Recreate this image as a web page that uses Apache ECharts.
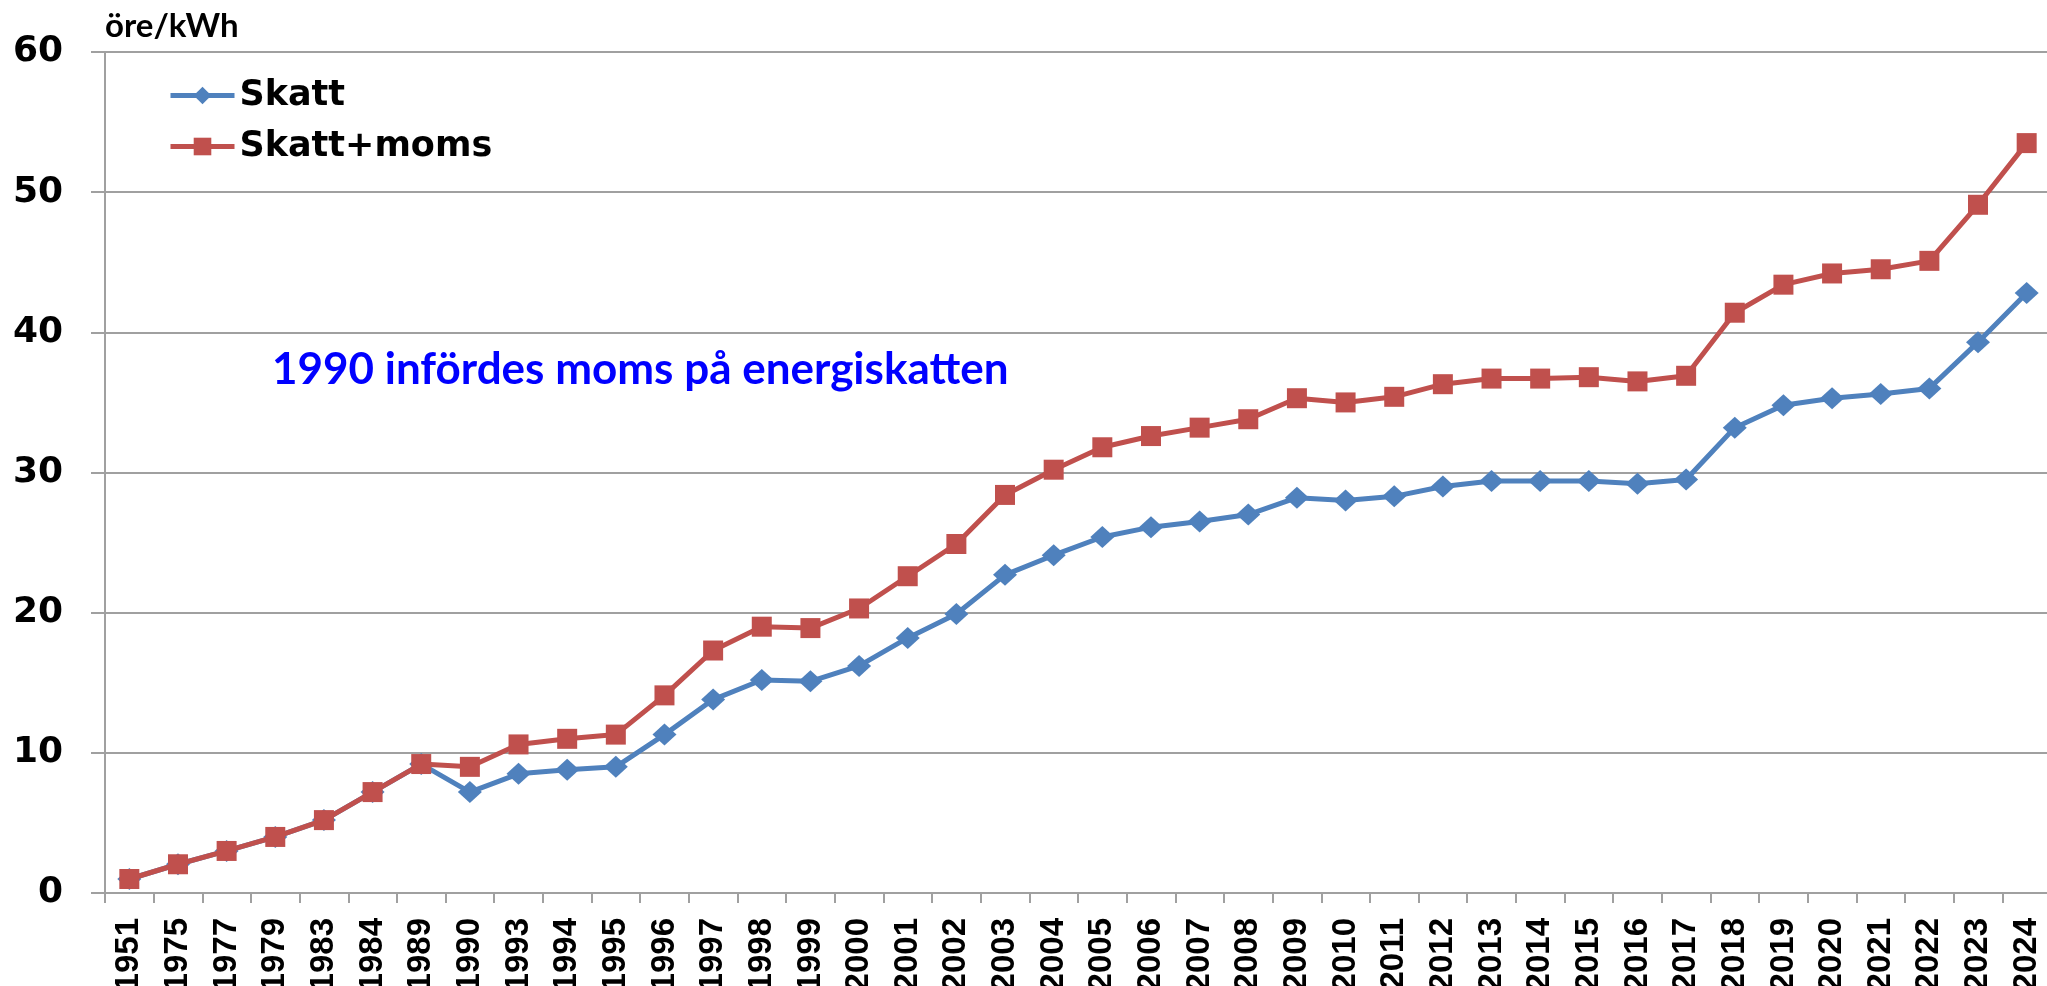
<!DOCTYPE html>
<html>
<head>
<meta charset="utf-8">
<script src="https://cdn.jsdelivr.net/npm/echarts@6/dist/echarts.min.js"></script>
<style>html,body{margin:0;padding:0;background:#fff}#c{width:2047px;height:986px}</style>
</head>
<body>
<div id="c"></div>
<script>
const years = ['1951','1975','1977','1979','1983','1984','1989','1990','1993','1994','1995','1996','1997','1998','1999','2000','2001','2002','2003','2004','2005','2006','2007','2008','2009','2010','2011','2012','2013','2014','2015','2016','2017','2018','2019','2020','2021','2022','2023','2024'];
const skatt = [1.0,2.05,3.0,4.0,5.2,7.2,9.2,7.2,8.5,8.8,9.0,11.3,13.8,15.2,15.1,16.2,18.2,19.9,22.7,24.1,25.4,26.1,26.5,27.0,28.2,28.0,28.3,29.0,29.4,29.4,29.4,29.2,29.5,33.2,34.8,35.3,35.6,36.0,39.3,42.8];
const skattMoms = [1.0,2.05,3.0,4.0,5.2,7.2,9.2,9.0,10.6,11.0,11.3,14.1,17.3,19.0,18.9,20.3,22.6,24.9,28.4,30.2,31.8,32.6,33.2,33.8,35.3,35.0,35.4,36.3,36.7,36.7,36.8,36.5,36.9,41.4,43.4,44.2,44.5,45.1,49.1,53.5];
const yTicks = {min: 0, max: 60, interval: 10};
const unitLabel = 'öre/kWh';
const note = '1990 infördes moms på energiskatten';

const chart = echarts.init(document.getElementById('c'));
const gray = '#a0a0a0';
chart.setOption({
  animation: false,
  backgroundColor: '#fff',
  grid: {left: 105, top: 52, width: 1946, height: 841, containLabel: false, outerBoundsMode: 'none'},
  legend: {
    orient: 'vertical', left: 163, top: 73, itemWidth: 64, itemHeight: 22, itemGap: 16,
    lineStyle: {width: 5},
    textStyle: {fontFamily: 'DejaVu Sans', fontWeight: 'bold', fontSize: 35, lineHeight: 35, color: '#000'},
    data: ['Skatt', 'Skatt+moms']
  },
  xAxis: {
    type: 'category', data: years, boundaryGap: true,
    axisLine: {lineStyle: {color: gray, width: 2}},
    axisTick: {show: true, interval: 0, length: 10, lineStyle: {color: gray, width: 2}},
    axisLabel: {interval: 0, rotate: 90, margin: 25, fontFamily: 'Liberation Sans', fontWeight: 'bold', fontSize: 33, color: '#000'},
    splitLine: {show: false}
  },
  yAxis: {
    type: 'value', min: yTicks.min, max: yTicks.max, interval: yTicks.interval,
    name: unitLabel, nameLocation: 'end', nameGap: 26,
    nameTextStyle: {align: 'left', verticalAlign: 'middle', fontFamily: 'Lato', fontWeight: 'bold', fontSize: 33, color: '#000'},
    axisLine: {show: true, lineStyle: {color: gray, width: 2}},
    axisTick: {show: true, length: 14, lineStyle: {color: gray, width: 2}},
    axisLabel: {margin: 42, fontFamily: 'DejaVu Sans', fontWeight: 'bold', fontSize: 36, color: '#000'},
    splitLine: {show: true, lineStyle: {color: gray, width: 2}}
  },
  graphic: [{
    type: 'text', left: 272, top: 348,
    style: {text: note, fontFamily: 'Lato', fontWeight: 'bold', fontSize: 44, fill: '#0000ff'}
  }],
  series: [
    {name: 'Skatt', type: 'line', data: skatt, symbol: 'diamond', symbolSize: [24, 22],
     lineStyle: {color: '#4f81bd', width: 5}, itemStyle: {color: '#4f81bd'}, z: 2},
    {name: 'Skatt+moms', type: 'line', data: skattMoms, symbol: 'rect', symbolSize: 20,
     lineStyle: {color: '#c0504d', width: 5}, itemStyle: {color: '#c0504d'}, z: 3}
  ]
});
</script>
</body>
</html>
